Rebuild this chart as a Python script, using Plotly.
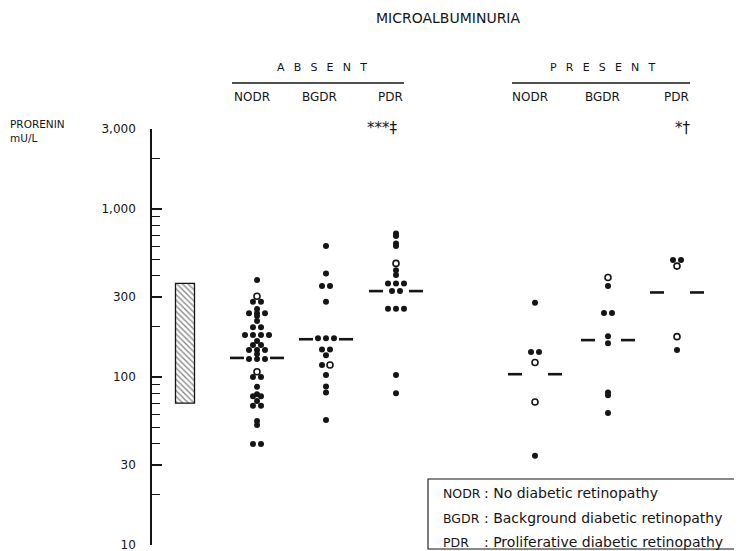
import math
import plotly.graph_objects as go

# ---------------- data (mU/L) ----------------
categories = ["NODR", "BGDR", "PDR"]
groups_microalb = ["ABSENT", "PRESENT"]

absent_nodr = [378, 281, 281, 254, 240, 240, 240, 231, 216, 198, 198, 178, 178, 178, 178,
               164, 155, 155, 145, 145, 145, 137, 128, 128, 128, 100, 100, 87.5, 79, 77, 77,
               72, 67.5, 67.5, 54.7, 51.8, 40, 40]
absent_nodr_open = [303, 107.5]
absent_bgdr = [603, 414, 348, 348, 281, 170, 170, 170, 146, 146, 135, 118, 103, 88, 81, 55.5]
absent_bgdr_open = [118]
absent_pdr = [717, 691, 625, 604, 433, 405, 361, 361, 361, 325, 325, 255, 255, 255, 103, 80]
absent_pdr_open = [475]

present_nodr = [277, 141, 141, 34]
present_nodr_open = [122, 71]
present_bgdr = [348, 241, 241, 175, 159, 81, 78, 61]
present_bgdr_open = [392]
present_pdr = [497, 497, 145]
present_pdr_open = [458, 174]

medians_absent = [130, 168, 325]
medians_present = [104, 166, 319]

normal_range = [70, 361]

significance_absent = "***‡"
significance_present = "*†"

y_tickvals = [10, 30, 100, 300, 1000, 3000]
y_ticktext = ["10", "30", "100", "300", "1,000", "3,000"]
y_minor = [20, 40, 50, 60, 70, 80, 90, 200, 400, 500, 600, 700, 800, 900, 2000]

legend_abbr = ["NODR", "BGDR", "PDR"]
legend_desc = [": No diabetic retinopathy", ": Background diabetic retinopathy",
               ": Proliferative diabetic retinopathy"]

# ---------------- layout constants (reference pixel coordinates) ----------------
W, H = 742, 551
OFF = 8                      # page body margin of the browser
L, T, B = 152, 129, 6
PW, PH = W - L, H - T - B
centers_absent = [257, 326, 396]
centers_present = [535, 608, 677]
FONT = "DejaVu Sans"
INK = "#151515"


def px(x):
    return (x - L) / PW


def py(y):
    return (H - B - y) / PH


def jitter(center, filled, opened, step=8.0):
    items = [(v, False) for v in filled] + [(v, True) for v in opened]
    rows = {}
    for v, o in items:
        rows.setdefault(v, []).append(o)
    fx, fy, ox, oy = [], [], [], []
    for v, flags in rows.items():
        n = len(flags)
        for i, o in enumerate(sorted(flags)):
            x = center + (i - (n - 1) / 2) * step
            if o:
                ox.append(x); oy.append(v)
            else:
                fx.append(x); fy.append(v)
    return fx, fy, ox, oy


fig = go.Figure()

# normal range hatched box
fig.add_trace(go.Bar(x=[185], y=[normal_range[1] - normal_range[0]], base=[normal_range[0]],
                     width=[19],
                     marker=dict(color="white", line=dict(color=INK, width=1.3),
                                 pattern=dict(shape="\\", size=4, solidity=0.35,
                                              fgcolor=INK, bgcolor="white")),
                     showlegend=False, hoverinfo="skip"))

all_groups = [
    (centers_absent, [(absent_nodr, absent_nodr_open), (absent_bgdr, absent_bgdr_open),
                      (absent_pdr, absent_pdr_open)], medians_absent),
    (centers_present, [(present_nodr, present_nodr_open), (present_bgdr, present_bgdr_open),
                       (present_pdr, present_pdr_open)], medians_present),
]

for centers, data, medians in all_groups:
    for c, (filled, opened), med in zip(centers, data, medians):
        fx, fy, ox, oy = jitter(c, filled, opened)
        fig.add_trace(go.Scatter(x=fx, y=fy, mode="markers",
                                 marker=dict(symbol="circle", size=6, color=INK),
                                 showlegend=False, hoverinfo="skip"))
        if ox:
            fig.add_trace(go.Scatter(x=ox, y=oy, mode="markers",
                                     marker=dict(symbol="circle-open", size=6, color=INK,
                                                 line=dict(width=1.6)),
                                     showlegend=False, hoverinfo="skip"))
        fig.add_trace(go.Scatter(x=[c - 27, c - 13, None, c + 13, c + 27],
                                 y=[med, med, None, med, med], mode="lines",
                                 line=dict(color=INK, width=2.6),
                                 showlegend=False, hoverinfo="skip"))

ann = []


def text(x, y, s, size=11, anchor="center"):
    ann.append(dict(x=px(x), y=py(y), xref="paper", yref="paper", text=s, showarrow=False,
                    xanchor=anchor, yanchor="middle",
                    font=dict(family=FONT, size=size, color=INK)))


SP = " \u00a0\u2009"
text(448, 18, "MICROALBUMINURIA", 14)
text(322, 67, SP.join("ABSENT"), 11)
text(603, 67, SP.join("PRESENT"), 11)
for x, s in zip([252, 319, 390], categories):
    text(x, 97, s, 12)
for x, s in zip([530, 602, 676], categories):
    text(x, 97, s, 12)
text(8, 124, "PRORENIN", 10.5, "left")
text(8, 138, "mU/L", 10.5, "left")
text(400, 128, significance_absent, 15, "right")
text(693, 128, significance_present, 15, "right")
for yy, a, d in zip([493, 518, 542], legend_abbr, legend_desc):
    text(441, yy, a, 12.5, "left")
    text(482, yy, d, 14, "left")

shapes = [
    dict(type="line", xref="paper", yref="paper", x0=px(232), x1=px(404), y0=py(83), y1=py(83),
         line=dict(color=INK, width=1.5)),
    dict(type="line", xref="paper", yref="paper", x0=px(512), x1=px(690), y0=py(83), y1=py(83),
         line=dict(color=INK, width=1.5)),
    dict(type="rect", xref="paper", yref="paper", x0=px(428), x1=px(737), y0=py(549), y1=py(479),
         line=dict(color=INK, width=1.1), fillcolor="white", layer="below"),
]

fig.update_layout(
    width=W - OFF, height=H - OFF,
    margin=dict(l=L - OFF, r=0, t=T - OFF, b=B, pad=0),
    paper_bgcolor="white", plot_bgcolor="white", showlegend=False,
    annotations=ann, shapes=shapes,
    xaxis=dict(type="linear", range=[L, W], visible=False, fixedrange=True),
    yaxis=dict(type="log", range=[1, math.log10(3000)], showline=True, linecolor=INK,
               linewidth=1.5, ticks="inside", ticklen=10, tickwidth=1.5, tickcolor=INK,
               tickvals=y_tickvals, ticktext=y_ticktext, showgrid=False, zeroline=False,
               ticklabelstandoff=12, ticklabeloverflow="allow",
               tickfont=dict(family=FONT, size=12, color=INK),
               minor=dict(tickvals=y_minor, ticks="inside", ticklen=8, tickwidth=1.3,
                          tickcolor=INK, showgrid=False)),
)

fig.write_html("out.html")
